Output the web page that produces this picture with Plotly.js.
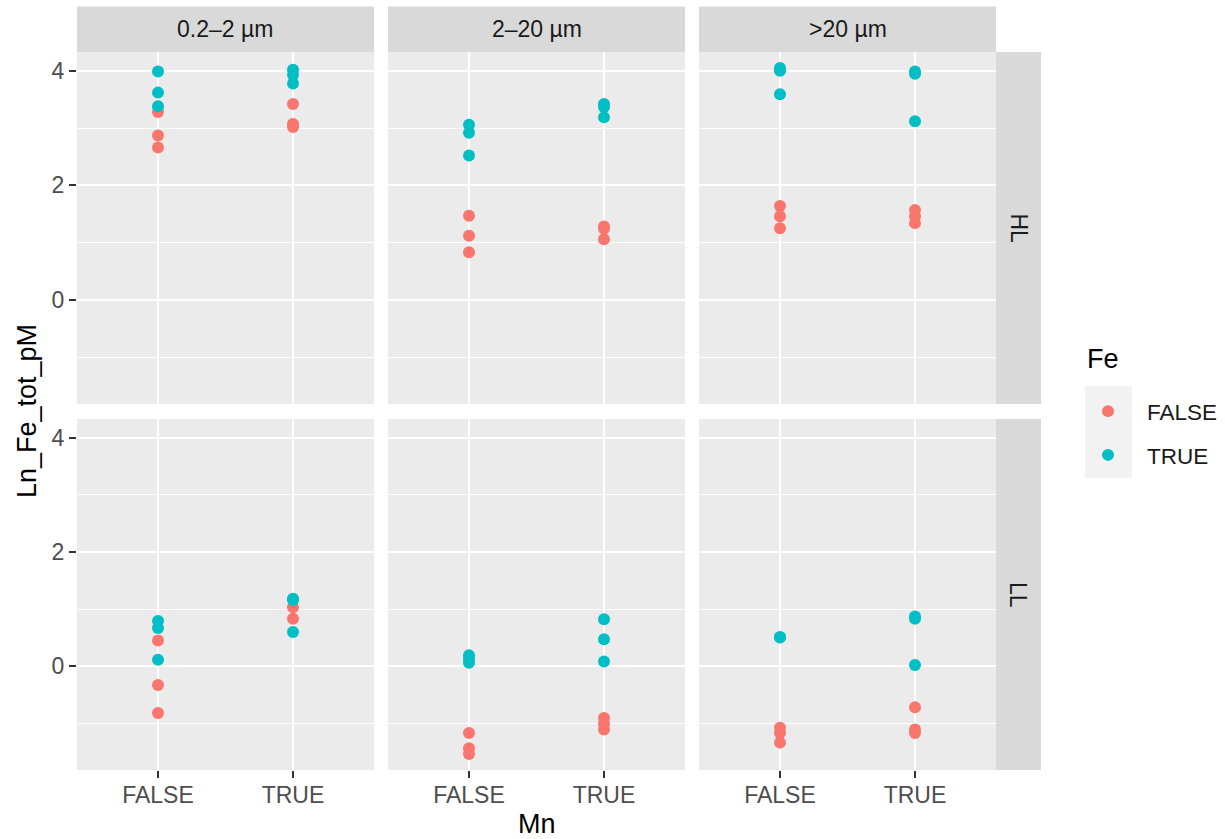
<!DOCTYPE html>
<html>
<head>
<meta charset="utf-8">
<script src="https://cdn.plot.ly/plotly-3.0.1.min.js"></script>
<style>
  html, body { margin: 0; padding: 0; background: #ffffff; }
  #chart { width: 1225px; height: 839px; }
</style>
</head>
<body>
<div id="chart"></div>
<script>
// Facet labels
const sizeClasses = ['0.2–2 µm', '2–20 µm', '>20 µm'];
const lightLevels = ['HL', 'LL'];
const mnLevels = ['FALSE', 'TRUE'];
const feLevels = ['FALSE', 'TRUE'];

// Ln total Fe (pM), split by light level, size class, Mn and Fe addition
// HL, 0.2–2 µm
const HL_s1_MnF_FeF = [3.28, 2.87, 2.66];
const HL_s1_MnF_FeT = [3.99, 3.62, 3.38];
const HL_s1_MnT_FeF = [3.42, 3.07, 3.02];
const HL_s1_MnT_FeT = [4.02, 3.93, 3.78];
// HL, 2–20 µm
const HL_s2_MnF_FeF = [1.47, 1.12, 0.83];
const HL_s2_MnF_FeT = [3.06, 2.92, 2.52];
const HL_s2_MnT_FeF = [1.28, 1.24, 1.06];
const HL_s2_MnT_FeT = [3.42, 3.37, 3.19];
// HL, >20 µm
const HL_s3_MnF_FeF = [1.64, 1.46, 1.25];
const HL_s3_MnF_FeT = [4.05, 4.00, 3.59];
const HL_s3_MnT_FeF = [1.57, 1.46, 1.34];
const HL_s3_MnT_FeT = [3.99, 3.95, 3.12];
// LL, 0.2–2 µm
const LL_s1_MnF_FeF = [0.45, -0.33, -0.82];
const LL_s1_MnF_FeT = [0.79, 0.67, 0.11];
const LL_s1_MnT_FeF = [1.03, 0.83];
const LL_s1_MnT_FeT = [1.18, 1.16, 0.60];
// LL, 2–20 µm
const LL_s2_MnF_FeF = [-1.17, -1.44, -1.54];
const LL_s2_MnF_FeT = [0.19, 0.13, 0.06];
const LL_s2_MnT_FeF = [-0.91, -1.01, -1.11];
const LL_s2_MnT_FeT = [0.82, 0.47, 0.08];
// LL, >20 µm
const LL_s3_MnF_FeF = [-1.08, -1.17, -1.34];
const LL_s3_MnF_FeT = [0.51, 0.50];
const LL_s3_MnT_FeF = [-0.72, -1.11, -1.17];
const LL_s3_MnT_FeT = [0.87, 0.83, 0.02];

const panels = [
  [[HL_s1_MnF_FeF, HL_s1_MnT_FeF, HL_s1_MnF_FeT, HL_s1_MnT_FeT],
   [HL_s2_MnF_FeF, HL_s2_MnT_FeF, HL_s2_MnF_FeT, HL_s2_MnT_FeT],
   [HL_s3_MnF_FeF, HL_s3_MnT_FeF, HL_s3_MnF_FeT, HL_s3_MnT_FeT]],
  [[LL_s1_MnF_FeF, LL_s1_MnT_FeF, LL_s1_MnF_FeT, LL_s1_MnT_FeT],
   [LL_s2_MnF_FeF, LL_s2_MnT_FeF, LL_s2_MnF_FeT, LL_s2_MnT_FeT],
   [LL_s3_MnF_FeF, LL_s3_MnT_FeF, LL_s3_MnF_FeT, LL_s3_MnT_FeT]]
];

const feColors = ['#F8766D', '#00BFC4'];

// page geometry (pixels)
const W = 1225, H = 839;
const colX = [[77, 374], [388, 685], [699, 996]];
const rowY = [[52, 404], [419, 770]];
const stripTop = 6.5;
const stripRight = [996, 1041];
const fx = p => p / W;
const fy = p => 1 - p / H;

// shared y range: data extent padded by 5% each side
const allVals = panels.flat(2).flat();
const yMin = Math.min(...allVals), yMax = Math.max(...allVals);
const pad = (yMax - yMin) * 0.05;
const yRange = [yMin - pad, yMax + pad];

const FONT = 'Liberation Sans, Arial, sans-serif';
const traces = [];
const layout = {
  width: W, height: H,
  margin: { l: 0, r: 0, t: 0, b: 0 },
  paper_bgcolor: '#ffffff',
  plot_bgcolor: '#ebebeb',
  font: { family: FONT, color: '#1a1a1a' },
  showlegend: true,
  legend: {
    x: fx(1069), xanchor: 'left',
    y: fy(390), yanchor: 'top',
    bgcolor: 'rgba(0,0,0,0)',
    font: { family: FONT, size: 22.5, color: '#1a1a1a' },
    itemwidth: 68,
    tracegroupgap: 11.5,
    itemclick: false, itemdoubleclick: false
  },
  shapes: [],
  annotations: []
};

for (let r = 0; r < 2; r++) {
  for (let c = 0; c < 3; c++) {
    const idx = r * 3 + c + 1;
    const xa = 'x' + (idx > 1 ? idx : '');
    const ya = 'y' + (idx > 1 ? idx : '');
    const groups = panels[r][c];
    for (let f = 0; f < 2; f++) {
      const ys = [];
      const xs = [];
      for (let m = 0; m < 2; m++) {
        const vals = groups[f * 2 + m];
        vals.forEach(v => { xs.push(mnLevels[m]); ys.push(v); });
      }
      traces.push({
        type: 'scatter', mode: 'markers',
        x: xs, y: ys, xaxis: xa, yaxis: ya,
        name: feLevels[f],
        legendgroup: 'fe' + f,
        showlegend: idx === 1,
        marker: { color: feColors[f], size: 12, line: { width: 0 } },
        hoverinfo: 'x+y'
      });
    }
    const bottom = r === 1, left = c === 0;
    layout['xaxis' + (idx > 1 ? idx : '')] = {
      domain: [fx(colX[c][0]), fx(colX[c][1])],
      anchor: ya,
      type: 'category',
      categoryorder: 'array', categoryarray: mnLevels,
      range: [-0.6, 1.6],
      showgrid: true, gridcolor: '#ffffff', gridwidth: 2,
      zeroline: false, showline: false,
      ticks: bottom ? 'outside' : '', ticklen: 7, tickwidth: 2, tickcolor: '#333333',
      showticklabels: bottom,
      ticklabelstandoff: -3,
      tickfont: { family: FONT, size: 23, color: '#4d4d4d' },
      fixedrange: true
    };
    layout['yaxis' + (idx > 1 ? idx : '')] = {
      domain: [fy(rowY[r][1]), fy(rowY[r][0])],
      anchor: xa,
      range: yRange,
      tickmode: 'linear', tick0: 0, dtick: 2,
      showgrid: true, gridcolor: '#ffffff', gridwidth: 2,
      minor: { dtick: 1, tick0: 0, showgrid: true, gridcolor: '#ffffff', gridwidth: 1.1, ticks: '' },
      zeroline: false, showline: false,
      ticks: left ? 'outside' : '', ticklen: 7, tickwidth: 2, tickcolor: '#333333',
      showticklabels: left,
      tickfont: { family: FONT, size: 23, color: '#4d4d4d' },
      fixedrange: true
    };
  }
}

// column strips
for (let c = 0; c < 3; c++) {
  layout.shapes.push({
    type: 'rect', xref: 'paper', yref: 'paper', layer: 'below',
    x0: fx(colX[c][0]), x1: fx(colX[c][1]), y0: fy(rowY[0][0]), y1: fy(stripTop),
    fillcolor: '#d9d9d9', line: { width: 0 }
  });
  layout.annotations.push({
    xref: 'paper', yref: 'paper', showarrow: false,
    x: fx((colX[c][0] + colX[c][1]) / 2), y: fy((stripTop + rowY[0][0]) / 2),
    xanchor: 'center', yanchor: 'middle',
    text: sizeClasses[c], font: { family: FONT, size: 23, color: '#1a1a1a' }
  });
}
// row strips
for (let r = 0; r < 2; r++) {
  layout.shapes.push({
    type: 'rect', xref: 'paper', yref: 'paper', layer: 'below',
    x0: fx(stripRight[0]), x1: fx(stripRight[1]), y0: fy(rowY[r][1]), y1: fy(rowY[r][0]),
    fillcolor: '#d9d9d9', line: { width: 0 }
  });
  layout.annotations.push({
    xref: 'paper', yref: 'paper', showarrow: false,
    x: fx((stripRight[0] + stripRight[1]) / 2), y: fy((rowY[r][0] + rowY[r][1]) / 2),
    xanchor: 'center', yanchor: 'middle', textangle: 90,
    text: lightLevels[r], font: { family: FONT, size: 23, color: '#1a1a1a' }
  });
}

// legend key background and title
layout.shapes.push({
  type: 'rect', xref: 'paper', yref: 'paper', layer: 'below',
  x0: fx(1085), x1: fx(1132), y0: fy(478), y1: fy(386),
  fillcolor: '#f2f2f2', line: { width: 0 }
});
layout.annotations.push({
  xref: 'paper', yref: 'paper', showarrow: false,
  x: fx(1085), y: fy(359), xanchor: 'left', yanchor: 'middle',
  text: 'Fe', font: { family: FONT, size: 27, color: '#000000' }
});

// axis titles
layout.annotations.push({
  xref: 'paper', yref: 'paper', showarrow: false,
  x: fx((colX[0][0] + colX[2][1]) / 2), y: fy(824), xanchor: 'center', yanchor: 'middle',
  text: 'Mn', font: { family: FONT, size: 27, color: '#000000' }
});
layout.annotations.push({
  xref: 'paper', yref: 'paper', showarrow: false,
  x: fx(27), y: fy((rowY[0][0] + rowY[1][1]) / 2), xanchor: 'center', yanchor: 'middle',
  textangle: -90,
  text: 'Ln_Fe_tot_pM', font: { family: FONT, size: 27, color: '#000000' }
});

Plotly.newPlot('chart', traces, layout, { displayModeBar: false, staticPlot: true });
</script>
</body>
</html>
